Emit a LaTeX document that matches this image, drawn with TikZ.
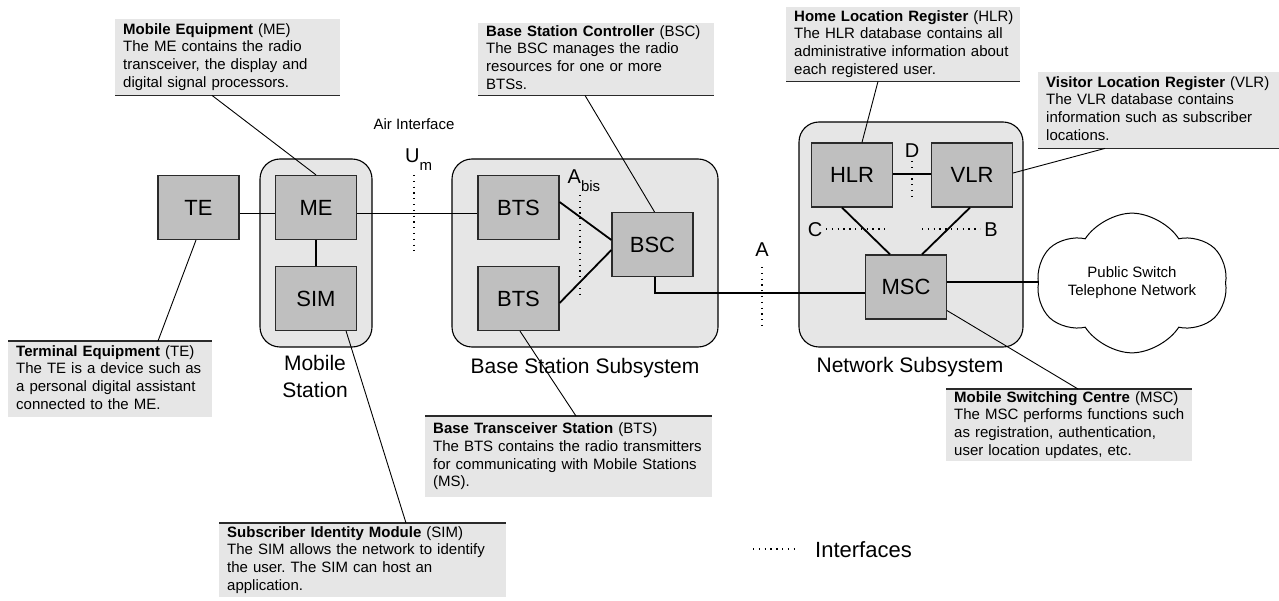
\documentclass[tikz,border=0pt]{standalone}
\usepackage{fontspec}
\setmainfont{Liberation Sans}
\usetikzlibrary{shapes.symbols}

\definecolor{boxgray}{HTML}{BFBFBF}
\definecolor{shade}{HTML}{E6E6E6}
\definecolor{edge}{HTML}{2A2A2A}

\newcommand{\notetext}[1]{\frenchspacing\begin{tabular}{@{}l@{}}#1\end{tabular}}

\tikzset{
  unit/.style={draw=edge, line width=1.2pt, fill=boxgray, minimum width=81pt,
    minimum height=64pt, inner sep=0pt, font=\fontsize{22}{22}\selectfont},
  group/.style={draw=black, line width=1.1pt, fill=shade, rounded corners=20pt, inner sep=0pt},
  note/.style={fill=shade, inner xsep=8pt, inner ysep=0pt, anchor=north west, align=left,
    font=\fontsize{15}{17.7}\selectfont},
  rule/.style={draw=edge, line width=1.4pt},
  link/.style={line width=1.8pt},
  leader/.style={line width=0.9pt},
  iface/.style={line width=1.3pt, dash pattern=on 1.3pt off 4.5pt},
  lbl/.style={font=\fontsize{21}{27}\selectfont, inner sep=0pt},
  small/.style={font=\fontsize{15}{18}\selectfont, inner sep=0pt},
}

\begin{document}
\begin{tikzpicture}[x=1pt, y=-1pt]
\useasboundingbox (0,0) rectangle (1279,601);

% subsystem groups
\node[group, minimum width=112pt, minimum height=188pt] (ms)  at (316,253) {};
\node[group, minimum width=266pt, minimum height=188pt] (bss) at (585,253) {};
\node[group, minimum width=224pt, minimum height=225pt] (nss) at (911,234.5) {};

% network elements
\node[unit] (te)   at (198.5,207.5) {TE};
\node[unit] (me)   at (316,207.5)   {ME};
\node[unit] (sim)  at (316,298.5)   {SIM};
\node[unit] (bts1) at (518.5,207.5) {BTS};
\node[unit] (bts2) at (518.5,298.5) {BTS};
\node[unit] (bsc)  at (652.5,244.5) {BSC};
\node[unit] (hlr)  at (852,175)     {HLR};
\node[unit] (vlr)  at (972,175)     {VLR};
\node[unit] (msc)  at (906,287)     {MSC};

\node[cloud, draw=black, line width=1pt, fill=white, cloud puffs=6, cloud puff arc=115,
      aspect=1.75, minimum width=190pt, minimum height=110pt, inner sep=0pt, align=center,
      font=\fontsize{15}{18}\selectfont] (pstn) at (1132,283)
      {Public Switch\\Telephone Network};

% group captions
\node[lbl, anchor=base, align=center] (mscap) at (315,397) {Mobile\\Station};
\node[lbl, anchor=base] (bsscap) at (585,373) {Base Station Subsystem};
\node[lbl, anchor=base] (nsscap) at (910,372) {Network Subsystem};

% links
\draw[link] ([yshift=-6pt]te.east) -- ([yshift=-6pt]me.west);
\draw[link] ([yshift=-6pt]me.east) -- ([yshift=-6pt]bts1.west);
\draw[link] (me.south) -- (sim.north);
\draw[link] ([yshift=5.5pt]bts1.east) -- ([yshift=4.5pt]bsc.west);
\draw[link] ([yshift=-4.5pt]bts2.east) -- ([yshift=-5.5pt]bsc.west);
\draw[link] ([xshift=2.5pt]bsc.south) |- ([yshift=-6pt]msc.west);
\draw[link] ([yshift=1pt]hlr.east) -- ([yshift=1pt]vlr.west);
\draw[link] ([xshift=-10pt]hlr.south) -- ([xshift=-16pt]msc.north);
\draw[link] ([xshift=-2pt]vlr.south) -- ([xshift=16pt]msc.north);
\draw[link] ([yshift=5pt]msc.east) -- ([yshift=5pt]msc.east -| pstn.west);

% interfaces
\node[small, anchor=base] (air) at (414,130) {Air Interface};
\node[lbl, anchor=base west, font=\fontsize{20}{20}\selectfont] (um) at (405,163)
  {U\raisebox{-8pt}{\fontsize{15}{15}\selectfont m}};
\node[lbl, anchor=base west, font=\fontsize{20}{20}\selectfont] (abis) at (567.5,184)
  {A\raisebox{-8pt}{\fontsize{15}{15}\selectfont bis}};
\node[lbl, anchor=base, font=\fontsize{20}{20}\selectfont] (ia) at (762,257) {A};
\node[lbl, anchor=base, font=\fontsize{20}{20}\selectfont] (id) at (912,158) {D};
\node[lbl, anchor=base, font=\fontsize{20}{20}\selectfont] (ic) at (815,237) {C};
\node[lbl, anchor=base, font=\fontsize{20}{20}\selectfont] (ib) at (991,237) {B};

\coordinate (um-a) at (414,175);   \coordinate (um-b) at (414,251);
\coordinate (abis-a) at (580,195); \coordinate (abis-b) at (580,297);
\coordinate (a-a) at (762,267);    \coordinate (a-b) at (762,326);
\coordinate (d-a) at (912,161);    \coordinate (d-b) at (912,200);
\coordinate (c-a) at (826,229);    \coordinate (c-b) at (885,229);
\coordinate (b-a) at (922,229);    \coordinate (b-b) at (980,229);
\draw[iface] (um-a) -- (um-b);
\draw[iface] (abis-a) -- (abis-b);
\draw[iface] (a-a) -- (a-b);
\draw[iface] (d-a) -- (d-b);
\draw[iface] (c-a) -- (c-b);
\draw[iface] (b-a) -- (b-b);

% legend
\coordinate (leg-a) at (753,549); \coordinate (leg-b) at (797,549);
\draw[iface] (leg-a) -- (leg-b);
\node[lbl, anchor=base west, font=\fontsize{22}{22}\selectfont] (legtxt) at (815,557) {Interfaces};

% callouts above their elements
\node[note, text width=209pt, minimum height=76pt] (menote) at (115,19) {\notetext{%
  \textbf{Mobile Equipment} (ME)\\ The ME contains the radio\\
  transceiver, the display and\\ digital signal processors.}};
\node[note, text width=220pt, minimum height=72pt] (bscnote) at (478,23) {\notetext{%
  \textbf{Base Station Controller} (BSC)\\ The BSC manages the radio\\
  resources for one or more\\ BTSs.}};
\node[note, text width=218pt, minimum height=74pt] (hlrnote) at (786,7) {\notetext{%
  \textbf{Home Location Register} (HLR)\\ The HLR database contains all\\
  administrative information about\\ each registered user.}};
\node[note, text width=225pt, minimum height=76pt] (vlrnote) at (1038,72) {\notetext{%
  \textbf{Visitor Location Register} (VLR)\\ The VLR database contains\\
  information such as subscriber\\ locations.}};
\foreach \n in {menote,bscnote,hlrnote,vlrnote}
  \draw[rule] (\n.south west) -- (\n.south east);

% callouts below their elements
\node[note, text width=188pt, minimum height=76pt] (tenote) at (8,341) {\notetext{%
  \textbf{Terminal Equipment} (TE)\\ The TE is a device such as\\
  a personal digital assistant\\ connected to the ME.}};
\node[note, text width=271pt, minimum height=74pt] (simnote) at (219,523) {\notetext{%
  \textbf{Subscriber Identity Module} (SIM)\\ The SIM allows the network to identify\\
  the user. The SIM can host an\\ application.}};
\node[note, text width=271pt, minimum height=81pt] (btsnote) at (425,416) {\notetext{%
  \textbf{Base Transceiver Station} (BTS)\\ The BTS contains the radio transmitters\\
  for communicating with Mobile Stations\\ (MS).}};
\node[note, text width=230pt, minimum height=72pt] (mscnote) at (946,389) {\notetext{%
  \textbf{Mobile Switching Centre} (MSC)\\ The MSC performs functions such\\
  as registration, authentication,\\ user location updates, etc.}};
\foreach \n in {tenote,simnote,btsnote,mscnote}
  \draw[rule] (\n.north west) -- (\n.north east);

% leader lines from callouts to elements
\draw[leader] ([xshift=97pt]menote.south west) -- (me.north);
\draw[leader] ([xshift=107pt]bscnote.south west) -- ([xshift=2pt]bsc.north);
\draw[leader] ([xshift=92pt]hlrnote.south west) -- ([xshift=10pt]hlr.north);
\draw[leader] ([xshift=67pt]vlrnote.south west) -- ([yshift=2pt]vlr.east);
\draw[leader] ([xshift=150pt]tenote.north west) -- ([xshift=-2.5pt]te.south);
\draw[leader] ([xshift=187pt]simnote.north west) -- ([xshift=-11pt]sim.south east);
\draw[leader] ([xshift=151pt]btsnote.north west) -- ([xshift=1.5pt]bts2.south);
\draw[leader] ([xshift=132pt]mscnote.north west) -- ([yshift=9pt]msc.south east);
\end{tikzpicture}
\end{document}
